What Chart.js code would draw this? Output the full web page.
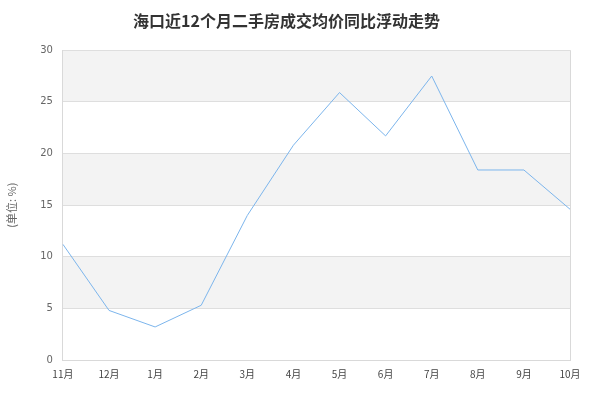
<!DOCTYPE html>
<html>
<head>
<meta charset="utf-8">
<script src="https://cdn.jsdelivr.net/npm/chart.js@4.4.1/dist/chart.umd.min.js"></script>
<style>
  html, body { margin: 0; padding: 0; background: #fff; }
  #wrap { width: 600px; height: 400px; position: relative; }
</style>
</head>
<body>
<div id="wrap"><canvas id="ctx"></canvas></div>
<script>
// data
var months = ['11月','12月','1月','2月','3月','4月','5月','6月','7月','8月','9月','10月'];
var priceChange = [11.2, 4.8, 3.2, 5.3, 14.0, 20.8, 25.9, 21.7, 27.5, 18.4, 18.4, 14.6];
var yTicks = [0, 5, 10, 15, 20, 25, 30];
var shadedBands = [[5, 10], [15, 20], [25, 30]];

// gray stripes behind the line
var bandPlugin = {
  id: 'bands',
  beforeDraw: function (chart) {
    var c = chart.ctx, area = chart.chartArea, y = chart.scales.y;
    c.save();
    c.fillStyle = '#f3f3f3';
    for (var i = 0; i < shadedBands.length; i++) {
      var top = y.getPixelForValue(shadedBands[i][1]);
      var bot = y.getPixelForValue(shadedBands[i][0]);
      c.fillRect(area.left, top, area.right - area.left, bot - top);
    }
    c.restore();
  },
  afterDraw: function (chart) {
    var c = chart.ctx, area = chart.chartArea;
    c.save();
    c.strokeStyle = '#d9d9d9';
    c.lineWidth = 1;
    c.beginPath();
    c.moveTo(Math.round(area.right) + 0.5, area.top);
    c.lineTo(Math.round(area.right) + 0.5, area.bottom);
    c.stroke();
    c.restore();
  }
};

var lineChart = new Chart(document.getElementById('ctx'), {
  type: 'line',
  data: {
    labels: months,
    datasets: [{
      data: priceChange,
      borderColor: '#7cb5ec',
      borderWidth: 1,
      pointRadius: 0,
      tension: 0,
      fill: false
    }]
  },
  options: {
    responsive: true,
    maintainAspectRatio: false,
    animation: false,
    layout: { padding: { left: 3, right: 30, top: 4, bottom: 12 } },
    plugins: {
      legend: { display: false },
      tooltip: { enabled: false },
      title: {
        display: true,
        text: '海口近12个月二手房成交均价同比浮动走势',
        color: '#333',
        font: { family: '"Noto Sans CJK SC", sans-serif', size: 16, weight: 'bold' },
        padding: { top: 7, bottom: 20 }
      }
    },
    scales: {
      x: {
        offset: false,
        grid: { display: false, drawTicks: false },
        border: { color: '#d9d9d9' },
        ticks: {
          color: '#444',
          font: { family: '"Noto Sans CJK SC", sans-serif', size: 10 },
          maxRotation: 0,
          autoSkip: false,
          padding: 8
        }
      },
      y: {
        min: 0,
        max: 30,
        afterBuildTicks: function (axis) {
          axis.ticks = yTicks.map(function (v) { return { value: v }; });
        },
        grid: { color: '#dedede', drawTicks: false },
        border: { color: '#d9d9d9' },
        ticks: {
          color: '#666',
          font: { family: '"DejaVu Sans", sans-serif', size: 10 },
          padding: 10
        },
        title: {
          display: true,
          text: '(单位: %)',
          color: '#666',
          font: { family: '"Noto Sans CJK SC", sans-serif', size: 11 },
          padding: { top: 2, bottom: 12 }
        }
      }
    }
  },
  plugins: [bandPlugin]
});
</script>
</body>
</html>
